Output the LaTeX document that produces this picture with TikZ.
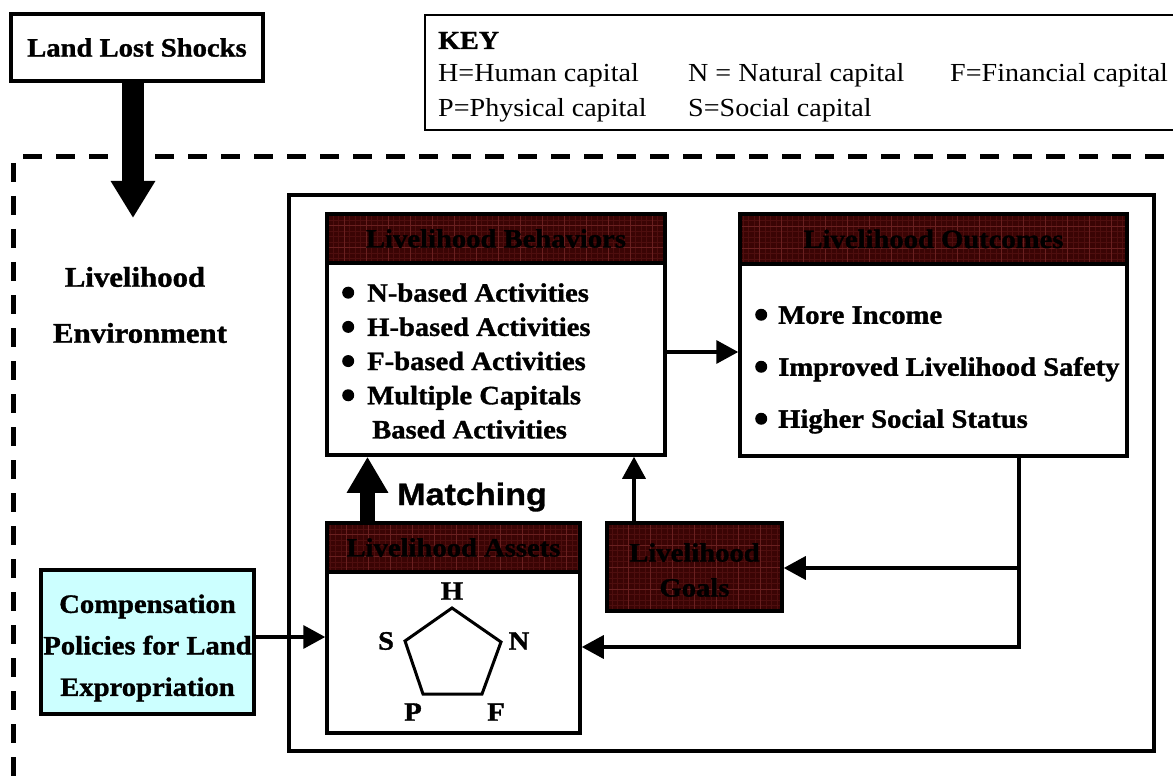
\documentclass[tikz,border=0pt]{standalone}
\usepackage{fontspec}
\setmainfont{Liberation Serif}[FakeStretch=1.08, BoldFeatures={FakeBold=1.2}]
\newfontfamily\matchfont{Liberation Sans}[FakeStretch=1.1, BoldFeatures={FakeBold=1}]
\usetikzlibrary{arrows.meta,calc}

\definecolor{hdrred}{HTML}{3A0404}
\definecolor{hdrgridmajor}{HTML}{6A2020}
\definecolor{hdrgridminor}{HTML}{4E0E0E}
\definecolor{cyanfill}{HTML}{CCFFFF}

\newcommand\bigbf{\bfseries\fontsize{26.5}{33}\selectfont}
\newcommand\keyfont{\fontsize{26}{31}\selectfont}
% round list bullet, 12pt across, centred 9pt above the baseline
\newcommand\bul[1]{\makebox[#1][l]{\tikz[x=1pt,y=1pt,baseline=0pt]\fill[black] (6,9) circle (6);}}

\tikzset{
  boxline/.style={draw=black, line width=3.5pt},
  whitebox/.style={boxline, fill=white, inner sep=0pt},
  hdrbox/.style={boxline, fill=hdrred, inner sep=0pt, font=\bigbf, text=black,
    path picture={
      \draw[hdrgridminor, line width=0.5pt, step=5.5pt]
        (path picture bounding box.south west) grid (path picture bounding box.north east);
      \draw[hdrgridmajor, line width=1pt, step=22pt]
        (path picture bounding box.south west) grid (path picture bounding box.north east);
    }},
  lbl/.style={font=\bigbf, inner sep=0pt},
  keytext/.style={font=\keyfont, inner sep=0pt, anchor=base west},
  thinarrow/.style={line width=3.5pt, -{Triangle[length=22pt,width=23pt]}},
  feedline/.style={line width=3.5pt},
  envborder/.style={line width=5pt, dash pattern=on 19pt off 14pt},
}

\begin{document}
\begin{tikzpicture}[x=1pt,y=-1pt]
\useasboundingbox (0,0) rectangle (1173,778);
\clip (0,0) rectangle (1173,778);

% outer dashed environment border
\draw[envborder] (23,157) -- (1190,157);
\draw[envborder] (13,163) -- (13,800);

% key box (runs off the right edge)
\node[draw, line width=1.5pt, minimum width=760pt, minimum height=115pt, inner sep=0pt]
  (key) at (805,72.5) {};
\node[keytext, font=\keyfont\bfseries] (keyt) at (438,49) {KEY};
\node[keytext] (kh) at (438,82) {H=Human capital};
\node[keytext] (kn) at (688,82) {N = Natural capital};
\node[keytext] (kf) at (950,82) {F=Financial capital};
\node[keytext] (kp) at (438,117) {P=Physical capital};
\node[keytext] (ks) at (688,117) {S=Social capital};

% shock box
\node[whitebox, minimum width=252pt, minimum height=67pt, font=\bigbf]
  (shock) at (137,47.5) {Land Lost Shocks};

% inner system frame
\node[draw, line width=3.5pt, minimum width=865pt, minimum height=556pt, inner sep=0pt]
  (frame) at (721.5,473) {};

% environment label
\node[lbl, font=\bfseries\fontsize{28.5}{34}\selectfont] (env1) at (135,277) {Livelihood};
\node[lbl, font=\bfseries\fontsize{28.5}{34}\selectfont] (env2) at (140,333) {Environment};

% livelihood behaviors
\node[hdrbox, minimum width=338pt, minimum height=49pt] (behh) at (496,238.5) {Livelihood Behaviors};
\node[whitebox, minimum width=338pt, minimum height=192pt] (beh) at (496,359) {};
\node[lbl, anchor=west, align=left, font=\bfseries\fontsize{26.5}{34.2}\selectfont]
  (behtxt) at (342,361) {\bul{25pt}N-based Activities\\
  \bul{25pt}H-based Activities\\
  \bul{25pt}F-based Activities\\
  \bul{25pt}Multiple Capitals\\
  \hspace*{30pt}Based Activities};

% livelihood outcomes
\node[hdrbox, minimum width=387pt, minimum height=50pt] (outh) at (933.5,239) {Livelihood Outcomes};
\node[whitebox, minimum width=387pt, minimum height=192pt] (out) at (933.5,360) {};
\node[lbl, anchor=west, align=left, font=\bfseries\fontsize{26.5}{52}\selectfont]
  (outtxt) at (755,370) {\bul{23pt}More Income\\
  \bul{23pt}Improved Livelihood Safety\\
  \bul{23pt}Higher Social Status};

% livelihood assets
\node[hdrbox, minimum width=253pt, minimum height=49pt] (assh) at (453.5,547.5) {Livelihood Assets};
\node[whitebox, minimum width=253pt, minimum height=161pt] (ass) at (453.5,652.5) {};

% asset pentagon
\coordinate (pH) at (452,608);
\coordinate (pN) at (501,642);
\coordinate (pF) at (482,694);
\coordinate (pP) at (423,694);
\coordinate (pS) at (405,641);
\draw[line width=3pt, line join=miter] (pH) -- (pN) -- (pF) -- (pP) -- (pS) -- cycle;
\node[lbl] (lH) at (452,591) {H};
\node[lbl] (lN) at (519,641) {N};
\node[lbl] (lF) at (496,712) {F};
\node[lbl] (lP) at (413,712) {P};
\node[lbl] (lS) at (386,641) {S};

% livelihood goals
\node[hdrbox, minimum width=175pt, minimum height=88pt] (goals) at (694.5,567) {};
\node[lbl, align=center, font=\bfseries\fontsize{26.5}{35}\selectfont]
  (goalstxt) at (694.5,570) {Livelihood\\Goals};

% compensation policies
\node[boxline, fill=cyanfill, minimum width=213pt, minimum height=144pt, inner sep=0pt]
  (comp) at (147.5,642) {};
\node[lbl, align=center, font=\bfseries\fontsize{26.5}{41.5}\selectfont]
  (comptxt) at (147.5,648) {Compensation\\Policies for Land\\Expropriation};

% block arrow: shocks into the environment
\coordinate (sx) at (133,0);
\coordinate (stip) at (133,218);
\draw[line width=22pt, -{Triangle[length=37pt,width=42pt]}] (shock.south -| sx) -- (stip);

% block arrow: matching assets to behaviors
\coordinate (mx) at (367.5,0);
\draw[line width=15pt, -{Triangle[length=36pt,width=39pt]}] (assh.north -| mx) -- (beh.south -| mx);
\node[inner sep=0pt, anchor=base west, font=\matchfont\bfseries\fontsize{31}{36}\selectfont]
  (match) at (397,505) {Matching};

% thin connectors
\coordinate (ay) at (0,352);
\draw[thinarrow] (beh.east |- ay) -- (out.west |- ay);

\coordinate (cy) at (0,637);
\draw[thinarrow] (comp.east |- cy) -- (ass.west |- cy);

\coordinate (gx) at (634,0);
\draw[thinarrow] (goals.north -| gx) -- (beh.south -| gx);

% feedback from outcomes to goals and assets
\coordinate (fx) at (1019,0);
\coordinate (fy) at (0,647);
\coordinate (gy) at (0,568);
\draw[feedline, line join=miter, -{Triangle[length=22pt,width=23pt]}]
  (out.south -| fx) -- (fx |- fy) -- (ass.east |- fy);
\draw[thinarrow] (fx |- gy) -- (goals.east |- gy);
\end{tikzpicture}
\end{document}
